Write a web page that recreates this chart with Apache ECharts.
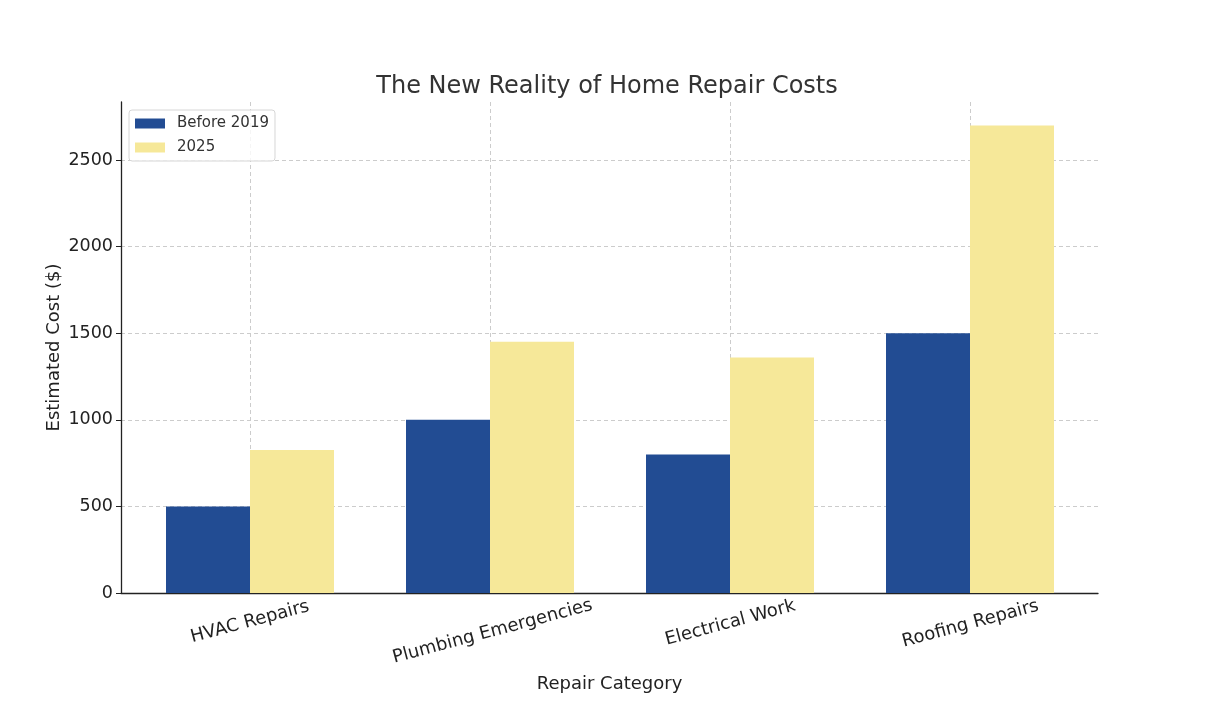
<!DOCTYPE html>
<html><head><meta charset="utf-8">
<script src="https://cdn.jsdelivr.net/npm/echarts@6/dist/echarts.min.js"></script>
<style>html,body{margin:0;padding:0;background:#fff}#c{width:1214px;height:710px}</style>
</head><body><div id="c"></div>
<script>
const categories = ["HVAC Repairs", "Plumbing Emergencies", "Electrical Work", "Roofing Repairs"];
const before2019 = [500, 1000, 800, 1500];
const y2025 = [825, 1450, 1360, 2700];
const seriesNames = ["Before 2019", "2025"];
const yTicks = [0, 500, 1000, 1500, 2000, 2500];

const font = "DejaVu Sans";
const chart = echarts.init(document.getElementById('c'));
const yMax = 2835;
// emulate matplotlib's top-anchored rotated labels: longer labels sit lower
const labelShift = [0, 20, 2, 4];
const rich = {};
categories.forEach((c, i) => { rich['l' + i] = {padding: [labelShift[i], 0, 0, 0], fontFamily: font, fontSize: 18, color: '#222'}; });
chart.setOption({
  animation: false,
  textStyle: {fontFamily: font},
  title: {text: "The New Reality of Home Repair Costs", left: 'center', top: 70,
    textStyle: {fontFamily: font, fontSize: 24, fontWeight: 'normal', color: '#333'}},
  legend: {
    left: 129, top: 110, orient: 'vertical', itemWidth: 30, itemHeight: 10, itemGap: 9,
    padding: [6, 6, 6, 6], borderColor: '#d6d6d6', borderWidth: 1, borderRadius: 3,
    backgroundColor: 'rgba(255,255,255,0.8)',
    textStyle: {fontFamily: font, fontSize: 15, color: '#333', padding: [0, 0, 0, 7]},
    data: seriesNames.map(n => ({name: n, icon: 'rect'}))
  },
  grid: [
    {left: 121, right: 116, top: 102, bottom: 117},
    {left: 250, width: 720, top: 102, bottom: 117}
  ],
  xAxis: [
    {type: 'value', gridIndex: 0, min: 0, max: 1, axisLabel: {show: false}, axisTick: {show: false},
      splitLine: {show: false}, axisLine: {show: true, lineStyle: {color: '#222', width: 1.3}},
      name: 'Repair Category', nameLocation: 'middle', nameGap: 82, nameMoveOverlap: false,
      nameTextStyle: {fontFamily: font, fontSize: 18, color: '#222'}},
    {type: 'category', gridIndex: 1, data: categories, boundaryGap: false,
      axisLine: {show: false}, axisTick: {show: false},
      axisLabel: {rotate: 15, align: 'center', verticalAlign: 'middle', margin: 29,
        fontFamily: font, fontSize: 18, color: '#222', rich: rich,
        formatter: (v, i) => '{l' + i + '|' + v + '}'},
      splitLine: {show: true, lineStyle: {type: [4, 3], color: '#cccccc', width: 1}}}
  ],
  yAxis: [
    {type: 'value', gridIndex: 0, min: 0, max: yMax, interval: 500,
      axisLine: {show: true, lineStyle: {color: '#222', width: 1.3}},
      axisTick: {show: true, length: 5, lineStyle: {color: '#222'}},
      axisLabel: {fontFamily: font, fontSize: 17.5, color: '#222', margin: 8, showMaxLabel: false,
        formatter: v => yTicks.includes(v) ? String(v) : ''},
      splitLine: {show: true, showMaxLine: false, lineStyle: {type: [4, 3], color: '#cccccc', width: 1}},
      name: 'Estimated Cost ($)', nameLocation: 'middle', nameGap: 58, nameMoveOverlap: false,
      nameTextStyle: {fontFamily: font, fontSize: 18, color: '#222'}},
    {type: 'value', gridIndex: 1, min: 0, max: yMax, show: false, splitLine: {show: false}}
  ],
  series: [
    {name: seriesNames[0], type: 'bar', xAxisIndex: 1, yAxisIndex: 1, data: before2019,
      barWidth: 84, barGap: '0%', clip: false, itemStyle: {color: '#224c93'}},
    {name: seriesNames[1], type: 'bar', xAxisIndex: 1, yAxisIndex: 1, data: y2025,
      barWidth: 84, barGap: '0%', clip: false, itemStyle: {color: '#f6e899'}}
  ]
});
</script></body></html>
